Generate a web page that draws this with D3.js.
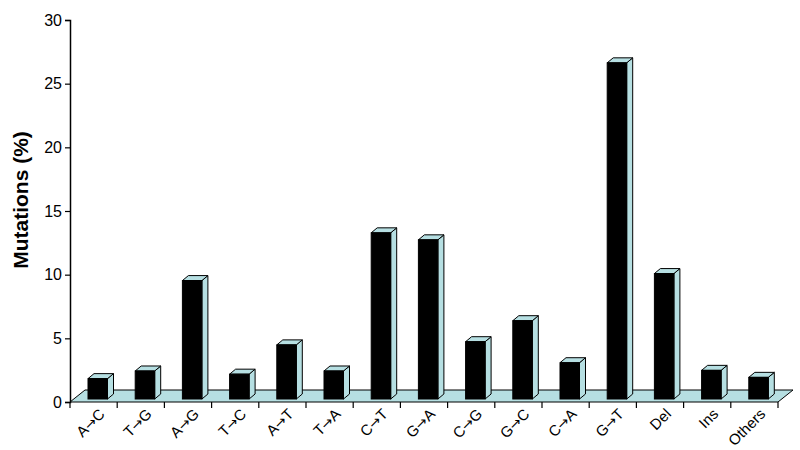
<!DOCTYPE html>
<html>
<head>
<meta charset="utf-8">
<title>Mutations</title>
<script src="https://d3js.org/d3.v7.min.js"></script>
<style>
  body { margin: 0; background: #fff; }
  text { font-family: "Liberation Sans", Arial, sans-serif; }
</style>
</head>
<body>
<script>
var categories = ["A→C", "T→G", "A→G", "T→C", "A→T", "T→A", "C→T", "G→A", "C→G", "G→C", "C→A", "G→T", "Del", "Ins", "Others"];
var values = [1.6, 2.2, 9.3, 1.95, 4.25, 2.2, 13.05, 12.5, 4.5, 6.15, 2.85, 26.4, 9.85, 2.25, 1.7];
var yTicks = [0, 5, 10, 15, 20, 25, 30];

var w = 800, h = 450;
var mLeft = 70, mRight = 778, mTop = 20, mBottom = 402;
var floorDx = 15, floorDy = -12;   // depth of the floor
var barDx = 6, barDy = -5;         // depth of each bar
var barLift = 3;                   // bars stand a bit back on the floor
var cyan = "#b6dfe2";

var svg = d3.select("body").append("svg").attr("width", w).attr("height", h);

var x = d3.scaleBand().domain(categories).range([mLeft, mRight]);
var y = d3.scaleLinear().domain([0, 30]).range([mBottom, mTop]);

// floor
svg.append("polygon")
    .attr("points", [[mLeft, mBottom], [mRight, mBottom], [mRight + floorDx, mBottom + floorDy], [mLeft + floorDx, mBottom + floorDy]].join(" "))
    .attr("fill", cyan)
    .attr("stroke", "#000")
    .attr("stroke-width", 1);

// bars
var bars = svg.selectAll("g.bar")
    .data(categories.map(function (c, i) { return { c: c, v: values[i] }; }))
    .enter().append("g").attr("class", "bar");

function fx(d) { return x(d.c) + 18; }
var bw = 19.5;

bars.append("polygon") // side
    .attr("points", function (d) {
        var x1 = fx(d) + bw, yt = y(d.v) - barLift, yb = y(0) - barLift;
        return [[x1, yb], [x1 + barDx, yb + barDy], [x1 + barDx, yt + barDy], [x1, yt]].join(" ");
    })
    .attr("fill", cyan).attr("stroke", "#000").attr("stroke-width", 1).attr("stroke-linejoin", "round");

bars.append("polygon") // top
    .attr("points", function (d) {
        var x0 = fx(d), yt = y(d.v) - barLift;
        return [[x0, yt], [x0 + bw, yt], [x0 + bw + barDx, yt + barDy], [x0 + barDx, yt + barDy]].join(" ");
    })
    .attr("fill", cyan).attr("stroke", "#000").attr("stroke-width", 1).attr("stroke-linejoin", "round");

bars.append("rect") // front
    .attr("x", fx)
    .attr("y", function (d) { return y(d.v) - barLift; })
    .attr("width", bw)
    .attr("height", function (d) { return y(0) - y(d.v); })
    .attr("fill", "#000").attr("stroke", "#000").attr("stroke-width", 1);

// y axis
var yAxis = svg.append("g").attr("transform", "translate(" + mLeft + ",0)")
    .call(d3.axisLeft(y).tickValues(yTicks).tickSize(5).tickPadding(3));
yAxis.select(".domain").attr("stroke", "#000").attr("stroke-width", 1.5);
yAxis.selectAll(".tick line").attr("stroke", "#000").attr("stroke-width", 1.2);
yAxis.selectAll(".tick text").attr("font-size", 16).attr("fill", "#000")
    .attr("font-family", "Liberation Sans, Arial, sans-serif");

// x ticks at band boundaries
var bounds = categories.map(function (c) { return x(c); }).concat([mRight]);
svg.selectAll("line.xtick").data(bounds).enter().append("line")
    .attr("x1", function (d) { return d; }).attr("x2", function (d) { return d; })
    .attr("y1", mBottom).attr("y2", mBottom + 6)
    .attr("stroke", "#000").attr("stroke-width", 1.2);

// x labels, arrow set in DejaVu so it is as tall as the letters
var labels = svg.selectAll("text.xlab").data(categories).enter().append("text")
    .attr("class", "xlab")
    .attr("text-anchor", "end")
    .attr("font-size", 15)
    .attr("transform", function (d) {
        return "translate(" + (x(d) + x.bandwidth() / 2 + 12) + "," + (mBottom + 13) + ") rotate(-45)";
    });
labels.each(function (d) {
    var t = d3.select(this);
    d.split(/(→)/).forEach(function (part) {
        if (!part) return;
        var s = t.append("tspan").text(part);
        if (part === "→") s.attr("font-family", "DejaVu Sans").attr("font-size", 14);
    });
});

// y title
svg.append("text")
    .attr("transform", "translate(28,200) rotate(-90)")
    .attr("text-anchor", "middle")
    .attr("font-size", 21)
    .attr("font-weight", "bold")
    .text("Mutations (%)");
</script>
</body>
</html>
